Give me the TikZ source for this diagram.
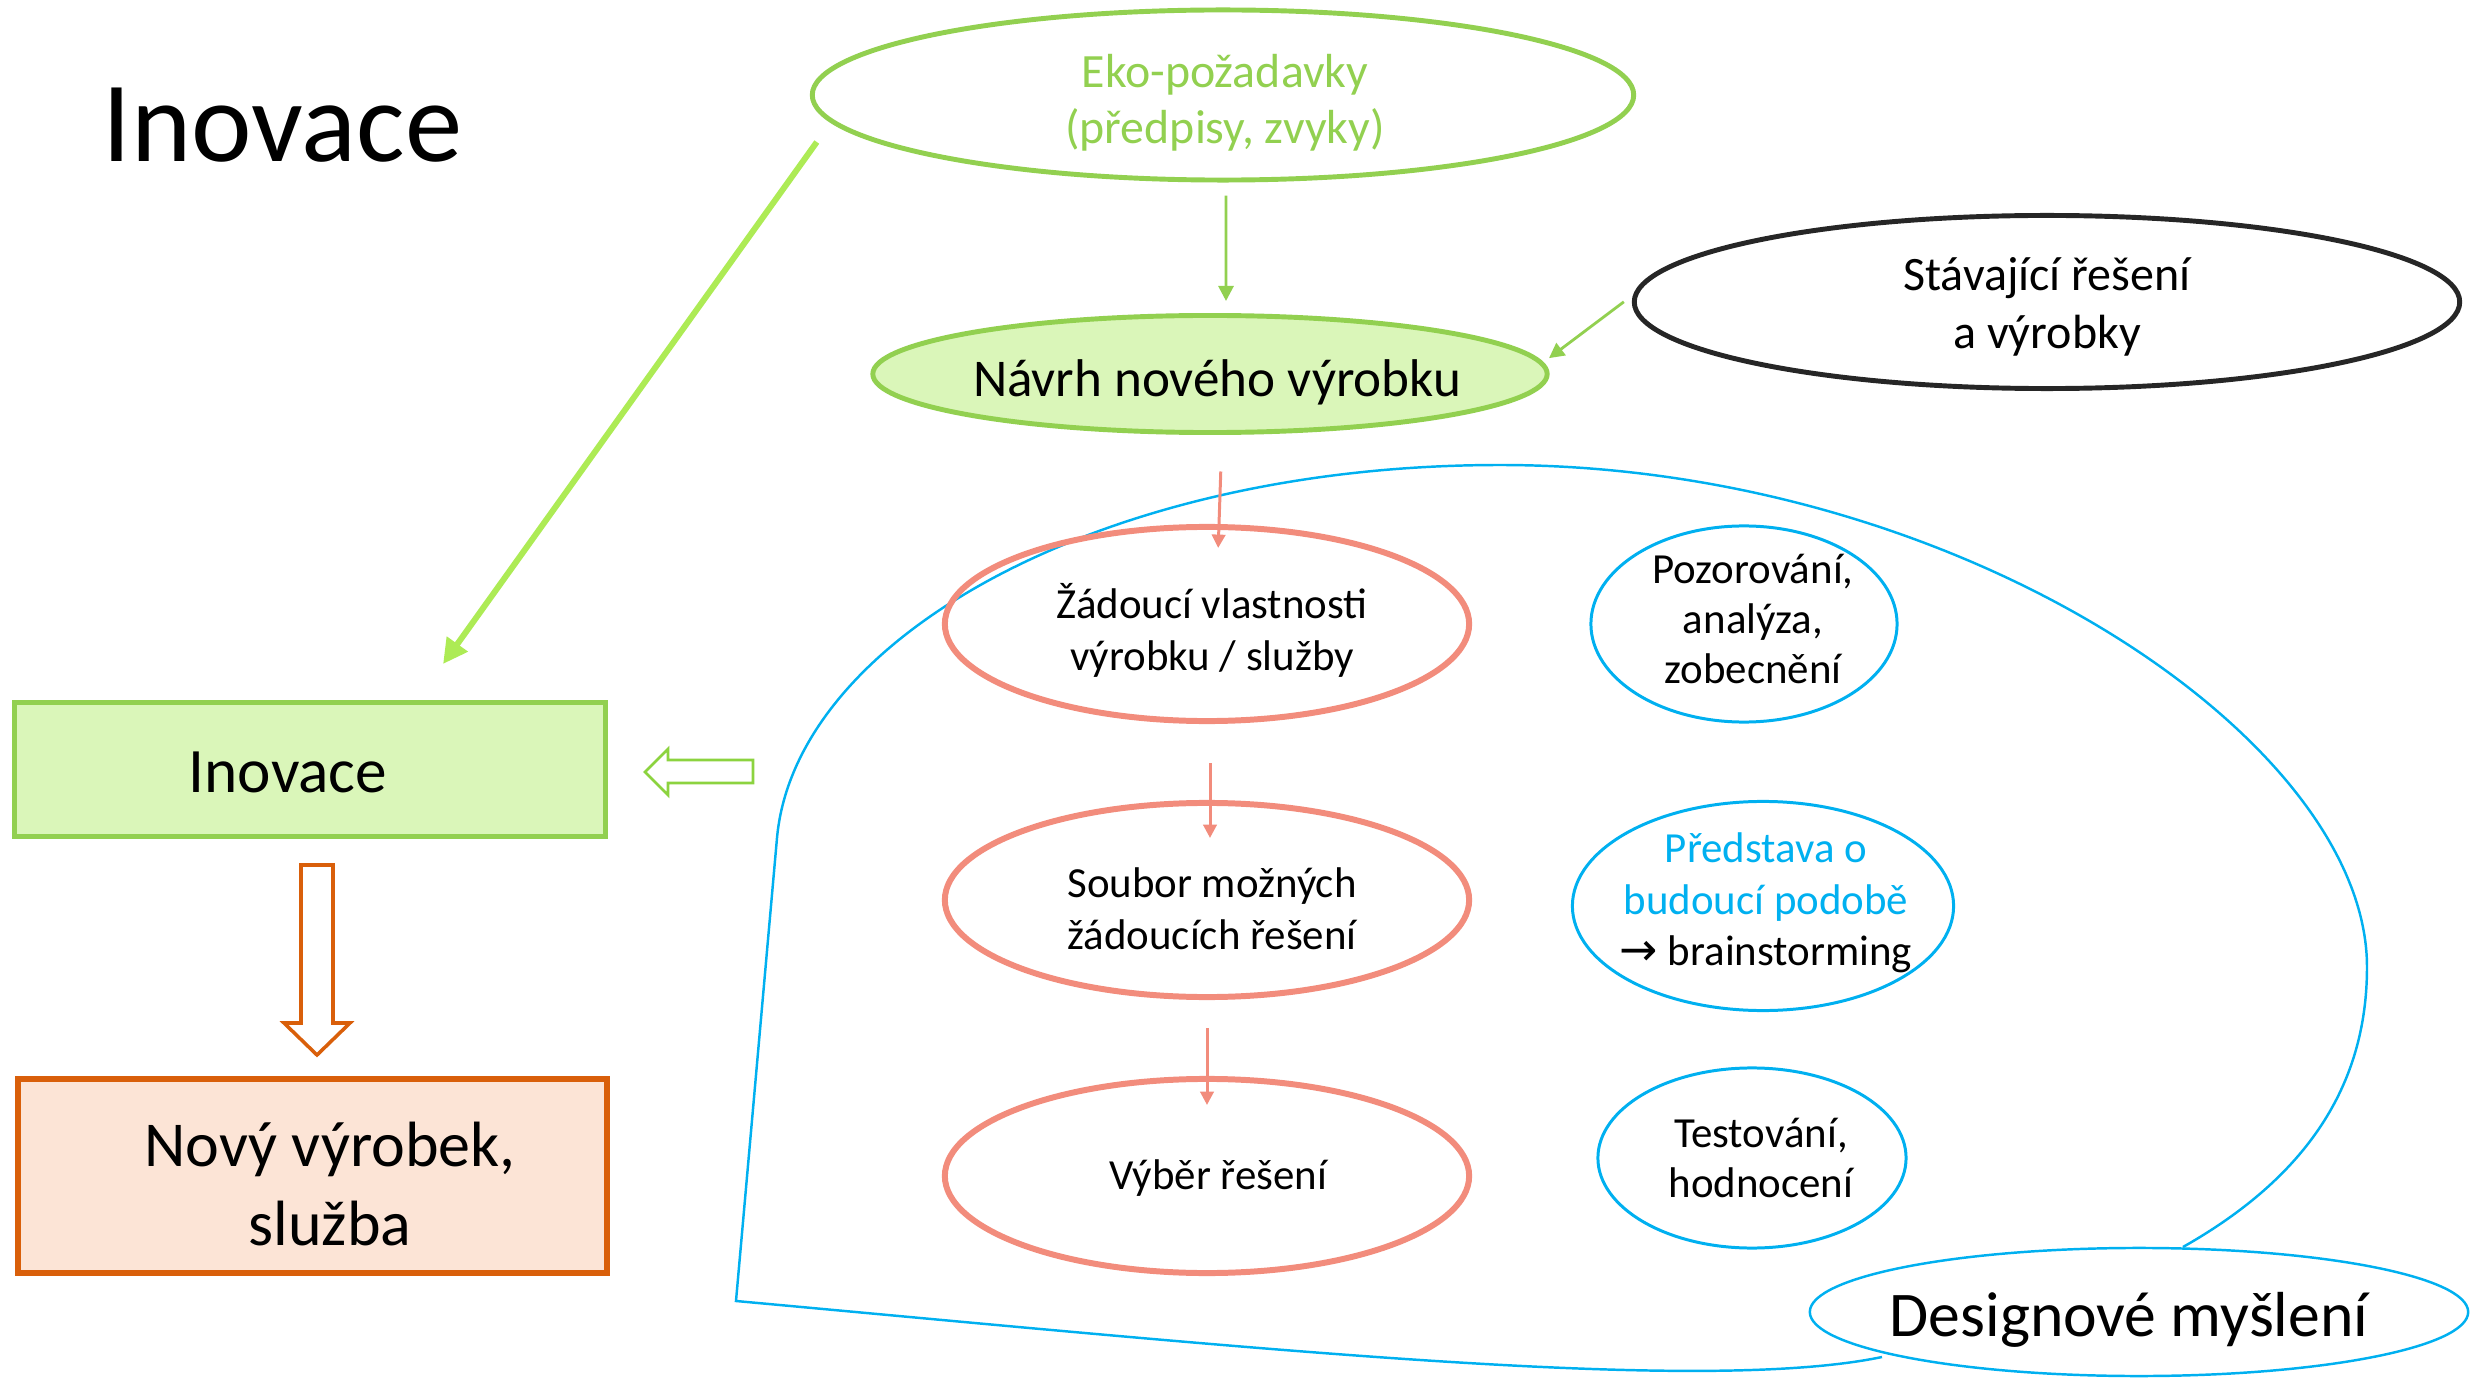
\documentclass[tikz,border=0pt]{standalone}
\usepackage{fontspec}
\setmainfont{Carlito}
\newfontfamily\arrowfont{DejaVu Sans}
\usetikzlibrary{shapes.geometric, arrows.meta}
\definecolor{lg}{HTML}{92D050}
\definecolor{lgfill}{HTML}{DAF6B9}
\definecolor{brightg}{HTML}{ADEB55}
\definecolor{hg}{HTML}{8CD33F}
\definecolor{org}{HTML}{D95F0A}
\definecolor{orgfill}{HTML}{FCE4D6}
\definecolor{salmon}{HTML}{F28C7C}
\definecolor{sky}{HTML}{00B0F0}
\definecolor{dk}{HTML}{262626}
\newcommand\myfs[2]{\fontsize{#1}{#2}\selectfont}
\begin{document}
\begin{tikzpicture}[x=0.01cm,y=-0.01cm,
  ell/.style={ellipse, inner sep=0pt},
  txt/.style={inner sep=0pt, align=center},
  greenell/.style={ell, draw=lg, line width=1.4pt},
  pinkell/.style={ell, draw=salmon, line width=1.7pt, minimum width=5.24cm, minimum height=1.94cm},
  pinktxt/.style={txt, font=\myfs{12.2}{14.8}},
  blueell/.style={ell, draw=sky, line width=0.85pt},
  bluetxt/.style={txt, font=\myfs{12.2}{14.3}},
  thinarrow/.style={draw=lg, line width=0.8pt, -{Triangle[length=4.3pt,width=4.3pt]}},
  pinkarrow/.style={draw=salmon, line width=0.85pt, -{Triangle[length=3.8pt,width=3.8pt]}},
  hollow/.style={line width=1pt, fill=white, line join=miter}
]
\useasboundingbox (0,0) rectangle (2471,1379);

% title
\node[anchor=base west, inner sep=0pt, font=\myfs{32.6}{38}] (title) at (102,162) {Inovace};

% design thinking blob
\draw[sky, line width=0.7pt, line join=miter]
  (1882,1357) .. controls (1700,1395) and (1250,1348) .. (736,1301)
  -- (777,838)
  .. controls (795,639) and (1100,465) .. (1500,465)
  .. controls (1960,465) and (2367,740) .. (2367,967)
  .. controls (2367,1087) and (2305,1178) .. (2183,1247);

% top ellipses
\node[greenell, minimum width=8.21cm, minimum height=1.70cm] (eko) at (1223,95) {};
\node[txt, text=lg, font=\myfs{13.6}{16}] (ekoT) at (1225,103) {Eko-požadavky\\(předpisy, zvyky)};
\node[greenell, fill=lgfill, minimum width=6.74cm, minimum height=1.17cm] (nv) at (1210,374) {};
\node[txt, font=\myfs{15.1}{18}] (nvT) at (1217,382) {Návrh nového výrobku};
\node[ell, draw=dk, line width=1.4pt, minimum width=8.25cm, minimum height=1.73cm] (st) at (2047,302) {};
\node[txt, font=\myfs{13.65}{16.6}] (stT) at (2047,307) {Stávající řešení\\a výrobky};

% pink ellipses
\node[pinkell] (zad) at (1207,624) {};
\node[pinktxt] (zadT) at (1212,630) {Žádoucí vlastnosti\\výrobku / služby};
\node[pinkell] (sou) at (1207,900) {};
\node[pinktxt] (souT) at (1212,909) {Soubor možných\\žádoucích řešení};
\node[pinkell] (vyb) at (1207,1176) {};
\node[pinktxt] (vybT) at (1218,1178) {Výběr řešení};

% blue ellipses
\node[blueell, minimum width=3.06cm, minimum height=1.96cm] (poz) at (1744,624) {};
\node[bluetxt] (pozT) at (1753,619) {Pozorování,\\analýza,\\zobecnění};
\node[blueell, minimum width=3.81cm, minimum height=2.09cm] (pred) at (1763,906) {};
\node[bluetxt, font=\myfs{12.2}{14.6}] (predT) at (1766,903) {\textcolor{sky}{Představa o}\\\textcolor{sky}{budoucí podobě}\\{\arrowfont\myfs{13}{14.6}→} brainstorming};
\node[blueell, minimum width=3.08cm, minimum height=1.80cm] (test) at (1752,1158) {};
\node[bluetxt] (testT) at (1761,1158) {Testování,\\hodnocení};
\node[ell, draw=sky, fill=white, line width=0.7pt, minimum width=6.58cm, minimum height=1.28cm] (dm) at (2139,1312) {};
\node[txt, font=\myfs{18.1}{21}] (dmT) at (2129,1320) {Designové myšlení};

% left boxes
\node[draw=lg, fill=lgfill, line width=1.4pt, minimum width=5.91cm, minimum height=1.34cm, inner sep=0pt] (inov) at (310,769.5) {};
\node[txt, font=\myfs{18}{22}] (inovT) at (288,772) {Inovace};
\node[draw=org, fill=orgfill, line width=1.7pt, minimum width=5.89cm, minimum height=1.94cm, inner sep=0pt] (nov) at (312.5,1176) {};
\node[txt, font=\myfs{18.2}{22.5}] (novT) at (330,1184) {Nový výrobek,\\služba};

% connectors
\draw[thinarrow, shorten <=0.13cm, shorten >=0.12cm] ([xshift=0.03cm]eko.south) -- ([xshift=0.16cm]nv.north);
\draw[thinarrow, shorten <=0.117cm, shorten >=0.07cm] (st.179.3) -- (nv.2.26);
\draw[draw=brightg, line width=1.7pt, -{Triangle[length=7pt,width=7pt]}] ([xshift=0.07cm, yshift=-0.47cm]eko.west) -- ([xshift=1.33cm, yshift=0.36cm]inov.north);
\draw[pinkarrow, shorten <=0.365cm, shorten >=-0.24cm] ([xshift=0.12cm]nv.south) -- ([xshift=0.12cm]zad.north);
\draw[pinkarrow, shorten <=0.39cm, shorten >=-0.38cm] ([xshift=0.03cm]zad.south) -- ([xshift=0.03cm]sou.north);
\draw[pinkarrow, shorten <=0.28cm, shorten >=-0.29cm] (sou.south) -- (vyb.north);

% hollow block arrows
\draw[hollow, draw=hg, line width=0.8pt] (645,772) -- (668,749) -- (668,760) -- (753,760) -- (753,783) -- (668,783) -- (668,795) -- cycle;
\draw[hollow, draw=org] (301,865) -- (333,865) -- (333,1023) -- (350,1023) -- (317,1055) -- (284,1023) -- (301,1023) -- cycle;
\end{tikzpicture}
\end{document}
